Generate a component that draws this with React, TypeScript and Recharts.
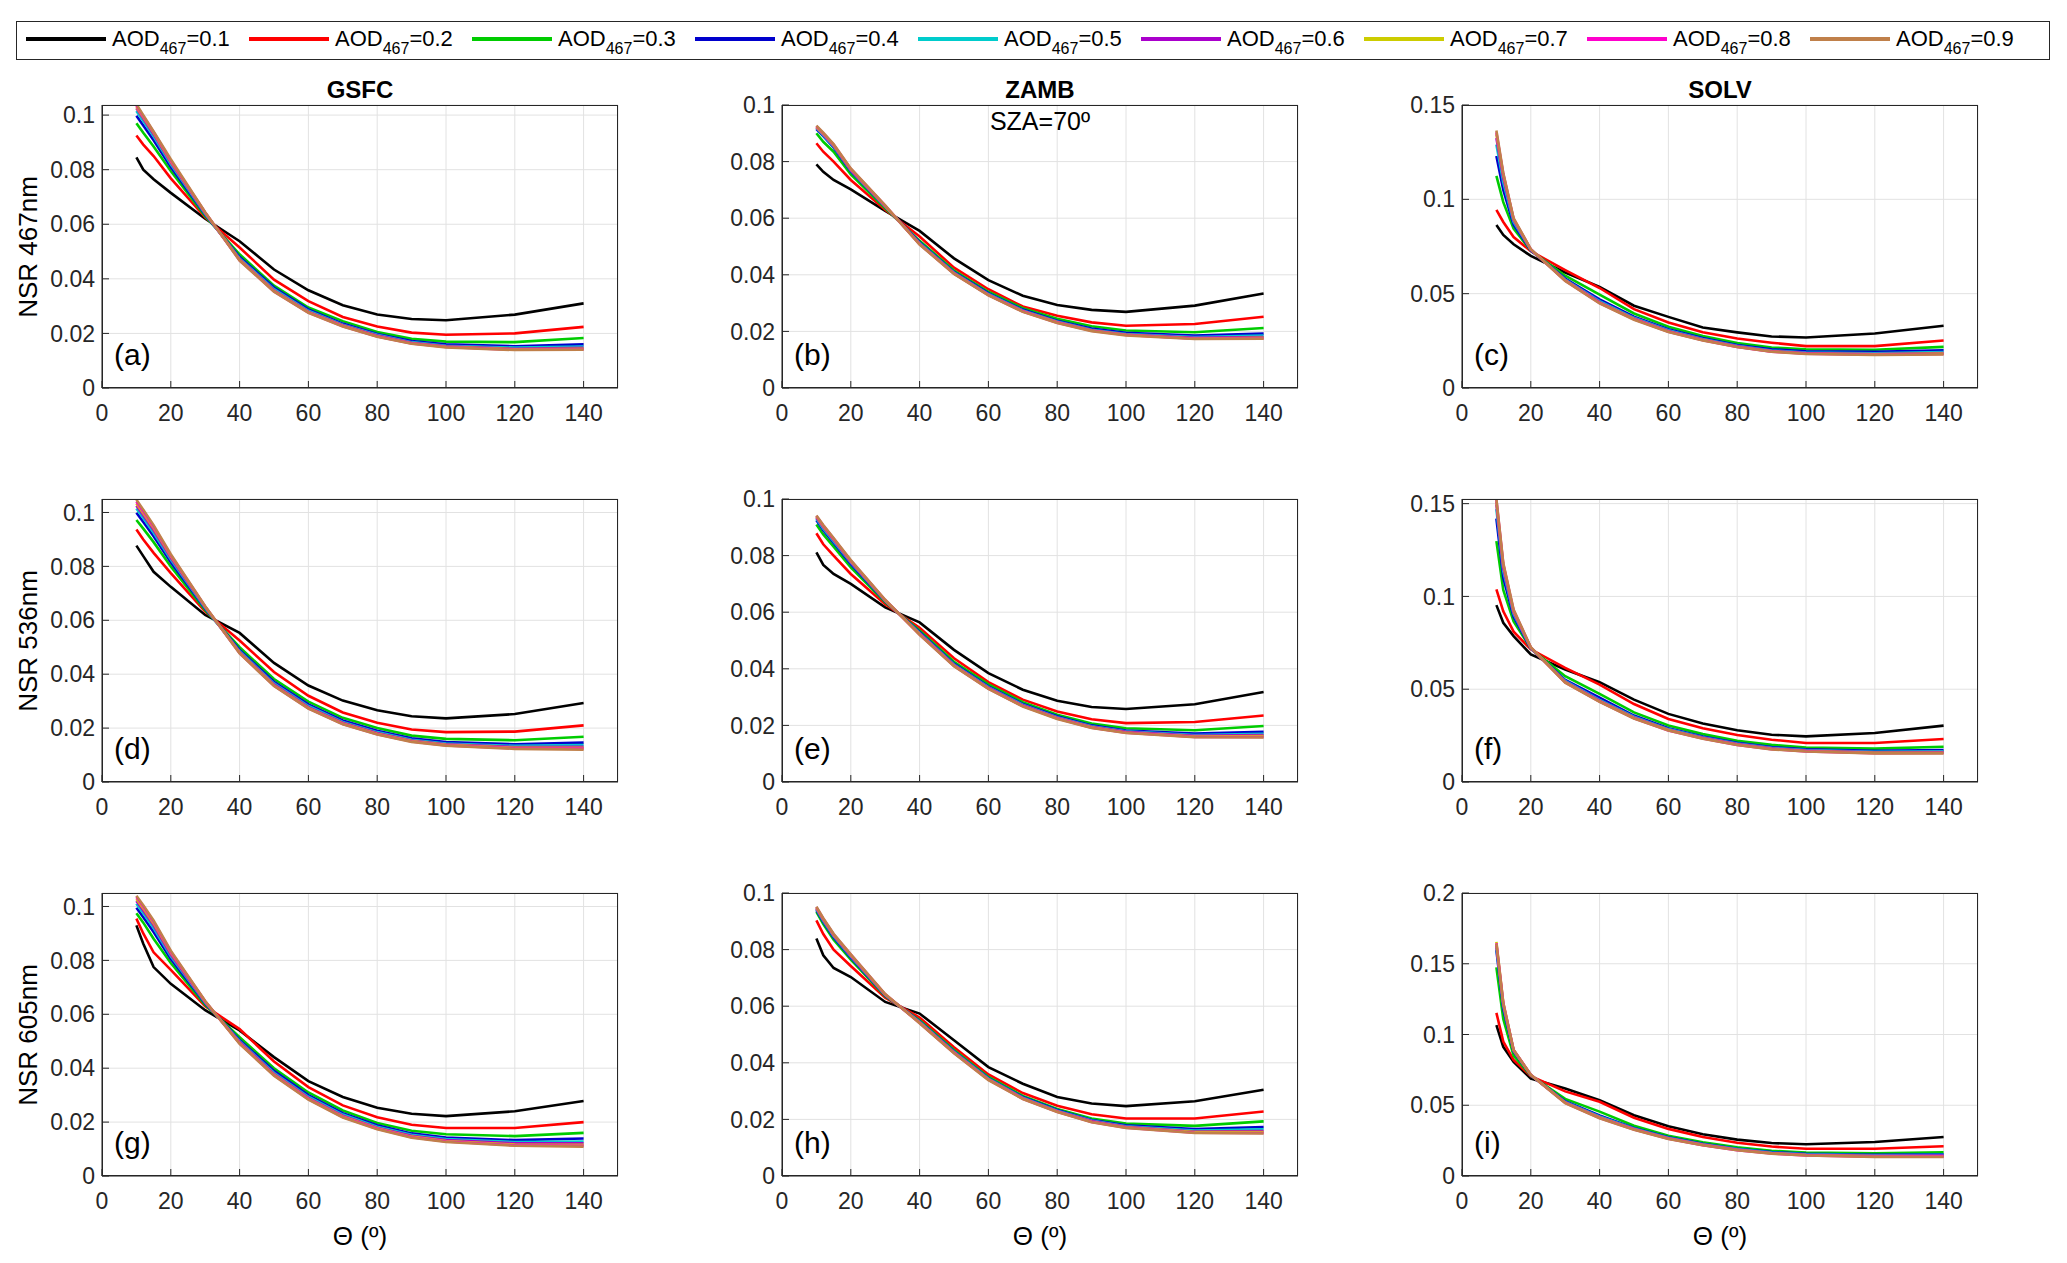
import React from "react";
import { LineChart, Line, XAxis, YAxis, CartesianGrid } from "recharts";

// scattering angle (deg) sampled by every curve
const theta = [10, 12, 15, 20, 30, 40, 50, 60, 70, 80, 90, 100, 120, 140];

const aodValues = ["0.1", "0.2", "0.3", "0.4", "0.5", "0.6", "0.7", "0.8", "0.9"];
const aodColors = [
  "#000000",
  "#ff0000",
  "#00cc00",
  "#0000cc",
  "#00cccc",
  "#aa00cc",
  "#cccc00",
  "#ff00cc",
  "#c0804a",
];

const sites = ["GSFC", "ZAMB", "SOLV"];
const bandLabels = ["NSR 467nm", "NSR 536nm", "NSR 605nm"];
const panelTags = ["(a)", "(b)", "(c)", "(d)", "(e)", "(f)", "(g)", "(h)", "(i)"];

const xTicks = [0, 20, 40, 60, 80, 100, 120, 140];
const yTicksSmall = [0, 0.02, 0.04, 0.06, 0.08, 0.1];
const yTicksMid = [0, 0.05, 0.1, 0.15];
const yTicksBig = [0, 0.05, 0.1, 0.15, 0.2];

// one row per AOD (0.1 ... 0.9), one value per theta
const gsfc467 = [
  [0.0845, 0.0800, 0.0765, 0.0715, 0.0620, 0.0538, 0.0434, 0.0358, 0.0303, 0.0269, 0.0253, 0.0248, 0.0269, 0.0310],
  [0.0925, 0.0892, 0.0850, 0.0768, 0.0625, 0.0515, 0.0397, 0.0318, 0.0260, 0.0225, 0.0203, 0.0195, 0.0200, 0.0224],
  [0.0970, 0.0935, 0.0885, 0.0795, 0.0630, 0.0490, 0.0375, 0.0295, 0.0245, 0.0205, 0.0180, 0.0170, 0.0168, 0.0183],
  [0.0998, 0.0962, 0.0908, 0.0810, 0.0635, 0.0480, 0.0368, 0.0288, 0.0236, 0.0198, 0.0172, 0.0160, 0.0153, 0.0160],
  [0.1015, 0.0978, 0.0922, 0.0820, 0.0638, 0.0475, 0.0362, 0.0283, 0.0232, 0.0195, 0.0168, 0.0155, 0.0148, 0.0152],
  [0.1025, 0.0987, 0.0930, 0.0826, 0.0640, 0.0472, 0.0358, 0.0280, 0.0230, 0.0192, 0.0166, 0.0153, 0.0144, 0.0147],
  [0.1030, 0.0992, 0.0935, 0.0830, 0.0642, 0.0470, 0.0356, 0.0278, 0.0228, 0.0190, 0.0164, 0.0151, 0.0142, 0.0144],
  [0.1035, 0.0996, 0.0938, 0.0833, 0.0643, 0.0468, 0.0354, 0.0276, 0.0226, 0.0189, 0.0163, 0.0150, 0.0140, 0.0141],
  [0.1040, 0.1000, 0.0940, 0.0838, 0.0644, 0.0467, 0.0353, 0.0275, 0.0225, 0.0188, 0.0162, 0.0149, 0.0139, 0.0140],
];

const zamb467 = [
  [0.0790, 0.0764, 0.0735, 0.0702, 0.0626, 0.0555, 0.0458, 0.0381, 0.0326, 0.0293, 0.0276, 0.0269, 0.0291, 0.0334],
  [0.0865, 0.0835, 0.0800, 0.0735, 0.0630, 0.0535, 0.0425, 0.0349, 0.0288, 0.0255, 0.0232, 0.0220, 0.0226, 0.0252],
  [0.0900, 0.0870, 0.0835, 0.0755, 0.0635, 0.0520, 0.0415, 0.0340, 0.0282, 0.0245, 0.0218, 0.0203, 0.0197, 0.0212],
  [0.0915, 0.0890, 0.0850, 0.0765, 0.0640, 0.0515, 0.0410, 0.0335, 0.0277, 0.0238, 0.0210, 0.0195, 0.0185, 0.0192],
  [0.0918, 0.0893, 0.0853, 0.0768, 0.0641, 0.0512, 0.0408, 0.0332, 0.0274, 0.0235, 0.0206, 0.0191, 0.0180, 0.0185],
  [0.0920, 0.0896, 0.0856, 0.0770, 0.0642, 0.0510, 0.0406, 0.0330, 0.0272, 0.0233, 0.0204, 0.0189, 0.0177, 0.0180],
  [0.0922, 0.0898, 0.0858, 0.0772, 0.0643, 0.0509, 0.0405, 0.0329, 0.0271, 0.0232, 0.0203, 0.0188, 0.0175, 0.0177],
  [0.0925, 0.0900, 0.0860, 0.0774, 0.0644, 0.0508, 0.0404, 0.0328, 0.0270, 0.0231, 0.0202, 0.0187, 0.0174, 0.0175],
  [0.0927, 0.0902, 0.0862, 0.0776, 0.0645, 0.0507, 0.0403, 0.0327, 0.0269, 0.0230, 0.0201, 0.0186, 0.0173, 0.0174],
];

const solv467 = [
  [0.0864, 0.0811, 0.0762, 0.0700, 0.0612, 0.0536, 0.0436, 0.0377, 0.0321, 0.0295, 0.0273, 0.0268, 0.0289, 0.0330],
  [0.0944, 0.0880, 0.0800, 0.0725, 0.0625, 0.0530, 0.0418, 0.0347, 0.0295, 0.0262, 0.0240, 0.0222, 0.0222, 0.0252],
  [0.1124, 0.0985, 0.0845, 0.0728, 0.0595, 0.0495, 0.0395, 0.0325, 0.0275, 0.0238, 0.0215, 0.0205, 0.0203, 0.0218],
  [0.1230, 0.1050, 0.0865, 0.0730, 0.0580, 0.0470, 0.0378, 0.0312, 0.0265, 0.0228, 0.0205, 0.0195, 0.0192, 0.0200],
  [0.1290, 0.1090, 0.0880, 0.0732, 0.0575, 0.0460, 0.0372, 0.0306, 0.0260, 0.0224, 0.0199, 0.0188, 0.0184, 0.0190],
  [0.1325, 0.1115, 0.0890, 0.0733, 0.0572, 0.0455, 0.0368, 0.0302, 0.0257, 0.0221, 0.0196, 0.0185, 0.0180, 0.0185],
  [0.1345, 0.1130, 0.0895, 0.0734, 0.0570, 0.0452, 0.0366, 0.0300, 0.0255, 0.0219, 0.0194, 0.0183, 0.0178, 0.0182],
  [0.1355, 0.1135, 0.0897, 0.0735, 0.0568, 0.0450, 0.0364, 0.0298, 0.0253, 0.0218, 0.0193, 0.0182, 0.0176, 0.0180],
  [0.1365, 0.1140, 0.0900, 0.0736, 0.0567, 0.0448, 0.0362, 0.0297, 0.0252, 0.0217, 0.0192, 0.0181, 0.0175, 0.0178],
];

const gsfc536 = [
  [0.0877, 0.0838, 0.0780, 0.0724, 0.0620, 0.0553, 0.0442, 0.0358, 0.0302, 0.0266, 0.0244, 0.0236, 0.0252, 0.0293],
  [0.0937, 0.0900, 0.0850, 0.0775, 0.0632, 0.0525, 0.0408, 0.0320, 0.0258, 0.0220, 0.0195, 0.0185, 0.0187, 0.0210],
  [0.0972, 0.0940, 0.0890, 0.0800, 0.0638, 0.0500, 0.0382, 0.0298, 0.0238, 0.0200, 0.0172, 0.0160, 0.0155, 0.0168],
  [0.0999, 0.0965, 0.0912, 0.0815, 0.0643, 0.0490, 0.0372, 0.0288, 0.0228, 0.0190, 0.0162, 0.0148, 0.0140, 0.0146],
  [0.1015, 0.0980, 0.0925, 0.0825, 0.0646, 0.0485, 0.0366, 0.0282, 0.0223, 0.0185, 0.0157, 0.0143, 0.0134, 0.0137],
  [0.1025, 0.0990, 0.0935, 0.0832, 0.0648, 0.0482, 0.0362, 0.0278, 0.0220, 0.0182, 0.0154, 0.0140, 0.0130, 0.0131],
  [0.1033, 0.0997, 0.0942, 0.0837, 0.0650, 0.0480, 0.0359, 0.0275, 0.0217, 0.0179, 0.0152, 0.0138, 0.0127, 0.0127],
  [0.1040, 0.1004, 0.0948, 0.0841, 0.0651, 0.0478, 0.0357, 0.0273, 0.0215, 0.0177, 0.0150, 0.0136, 0.0125, 0.0124],
  [0.1047, 0.1010, 0.0953, 0.0845, 0.0652, 0.0477, 0.0356, 0.0272, 0.0214, 0.0176, 0.0149, 0.0135, 0.0123, 0.0120],
];

const zamb536 = [
  [0.0811, 0.0767, 0.0735, 0.0700, 0.0617, 0.0564, 0.0467, 0.0385, 0.0326, 0.0287, 0.0265, 0.0258, 0.0275, 0.0318],
  [0.0879, 0.0840, 0.0800, 0.0735, 0.0628, 0.0545, 0.0437, 0.0353, 0.0291, 0.0249, 0.0222, 0.0208, 0.0212, 0.0235],
  [0.0910, 0.0875, 0.0832, 0.0758, 0.0635, 0.0535, 0.0425, 0.0345, 0.0282, 0.0238, 0.0207, 0.0190, 0.0183, 0.0198],
  [0.0925, 0.0890, 0.0845, 0.0770, 0.0638, 0.0530, 0.0418, 0.0338, 0.0276, 0.0232, 0.0200, 0.0182, 0.0171, 0.0177],
  [0.0930, 0.0895, 0.0850, 0.0775, 0.0640, 0.0527, 0.0415, 0.0335, 0.0273, 0.0229, 0.0197, 0.0179, 0.0166, 0.0170],
  [0.0935, 0.0900, 0.0855, 0.0778, 0.0641, 0.0525, 0.0413, 0.0333, 0.0271, 0.0227, 0.0195, 0.0177, 0.0163, 0.0166],
  [0.0938, 0.0903, 0.0858, 0.0780, 0.0642, 0.0523, 0.0411, 0.0331, 0.0269, 0.0225, 0.0193, 0.0175, 0.0161, 0.0162],
  [0.0940, 0.0906, 0.0860, 0.0782, 0.0643, 0.0521, 0.0410, 0.0330, 0.0268, 0.0224, 0.0192, 0.0174, 0.0159, 0.0159],
  [0.0942, 0.0908, 0.0862, 0.0784, 0.0644, 0.0520, 0.0409, 0.0329, 0.0267, 0.0223, 0.0191, 0.0173, 0.0158, 0.0157],
];

const solv536 = [
  [0.0953, 0.0858, 0.0786, 0.0687, 0.0606, 0.0538, 0.0444, 0.0367, 0.0315, 0.0279, 0.0255, 0.0246, 0.0264, 0.0304],
  [0.1038, 0.0920, 0.0810, 0.0715, 0.0615, 0.0525, 0.0420, 0.0340, 0.0290, 0.0253, 0.0228, 0.0210, 0.0210, 0.0232],
  [0.1298, 0.1035, 0.0865, 0.0720, 0.0570, 0.0475, 0.0375, 0.0305, 0.0258, 0.0222, 0.0200, 0.0185, 0.0180, 0.0190],
  [0.1420, 0.1100, 0.0890, 0.0720, 0.0550, 0.0455, 0.0358, 0.0290, 0.0245, 0.0211, 0.0188, 0.0176, 0.0168, 0.0172],
  [0.1470, 0.1135, 0.0905, 0.0722, 0.0545, 0.0442, 0.0352, 0.0285, 0.0241, 0.0207, 0.0184, 0.0172, 0.0163, 0.0166],
  [0.1495, 0.1155, 0.0915, 0.0723, 0.0541, 0.0438, 0.0348, 0.0282, 0.0238, 0.0204, 0.0181, 0.0169, 0.0160, 0.0162],
  [0.1510, 0.1170, 0.0920, 0.0724, 0.0538, 0.0435, 0.0345, 0.0280, 0.0236, 0.0202, 0.0179, 0.0167, 0.0157, 0.0158],
  [0.1520, 0.1175, 0.0925, 0.0725, 0.0536, 0.0433, 0.0343, 0.0278, 0.0234, 0.0200, 0.0177, 0.0165, 0.0155, 0.0156],
  [0.1525, 0.1180, 0.0930, 0.0726, 0.0535, 0.0432, 0.0342, 0.0277, 0.0233, 0.0199, 0.0176, 0.0164, 0.0154, 0.0154],
];

const gsfc605 = [
  [0.0930, 0.0862, 0.0775, 0.0713, 0.0615, 0.0540, 0.0441, 0.0352, 0.0293, 0.0253, 0.0231, 0.0222, 0.0240, 0.0278],
  [0.0955, 0.0900, 0.0830, 0.0765, 0.0630, 0.0545, 0.0425, 0.0330, 0.0262, 0.0218, 0.0190, 0.0178, 0.0178, 0.0200],
  [0.0975, 0.0940, 0.0880, 0.0790, 0.0635, 0.0515, 0.0400, 0.0310, 0.0243, 0.0197, 0.0168, 0.0155, 0.0148, 0.0160],
  [0.0995, 0.0960, 0.0905, 0.0805, 0.0640, 0.0505, 0.0390, 0.0300, 0.0233, 0.0188, 0.0158, 0.0143, 0.0133, 0.0139],
  [0.1010, 0.0975, 0.0920, 0.0815, 0.0643, 0.0500, 0.0383, 0.0294, 0.0228, 0.0183, 0.0153, 0.0137, 0.0126, 0.0128],
  [0.1020, 0.0985, 0.0930, 0.0822, 0.0645, 0.0497, 0.0379, 0.0290, 0.0224, 0.0179, 0.0149, 0.0133, 0.0121, 0.0121],
  [0.1028, 0.0993, 0.0937, 0.0828, 0.0647, 0.0494, 0.0376, 0.0287, 0.0221, 0.0177, 0.0146, 0.0130, 0.0117, 0.0116],
  [0.1035, 0.1000, 0.0943, 0.0832, 0.0648, 0.0492, 0.0374, 0.0285, 0.0219, 0.0175, 0.0144, 0.0128, 0.0114, 0.0112],
  [0.1040, 0.1005, 0.0948, 0.0836, 0.0649, 0.0490, 0.0372, 0.0283, 0.0217, 0.0173, 0.0142, 0.0126, 0.0112, 0.0109],
];

const zamb605 = [
  [0.0839, 0.0780, 0.0735, 0.0703, 0.0615, 0.0574, 0.0480, 0.0385, 0.0326, 0.0279, 0.0256, 0.0247, 0.0264, 0.0305],
  [0.0903, 0.0855, 0.0800, 0.0742, 0.0630, 0.0560, 0.0455, 0.0359, 0.0293, 0.0248, 0.0218, 0.0203, 0.0203, 0.0228],
  [0.0933, 0.0890, 0.0835, 0.0765, 0.0635, 0.0550, 0.0445, 0.0350, 0.0283, 0.0237, 0.0203, 0.0185, 0.0177, 0.0193],
  [0.0940, 0.0898, 0.0843, 0.0772, 0.0638, 0.0547, 0.0441, 0.0346, 0.0279, 0.0233, 0.0198, 0.0179, 0.0166, 0.0173],
  [0.0943, 0.0902, 0.0847, 0.0775, 0.0639, 0.0545, 0.0439, 0.0344, 0.0277, 0.0231, 0.0196, 0.0176, 0.0161, 0.0165],
  [0.0946, 0.0905, 0.0850, 0.0778, 0.0640, 0.0543, 0.0437, 0.0342, 0.0275, 0.0229, 0.0194, 0.0174, 0.0157, 0.0159],
  [0.0948, 0.0907, 0.0852, 0.0780, 0.0641, 0.0542, 0.0436, 0.0341, 0.0274, 0.0228, 0.0192, 0.0172, 0.0155, 0.0155],
  [0.0950, 0.0909, 0.0854, 0.0782, 0.0642, 0.0541, 0.0435, 0.0340, 0.0273, 0.0227, 0.0191, 0.0171, 0.0153, 0.0152],
  [0.0952, 0.0911, 0.0856, 0.0783, 0.0643, 0.0540, 0.0434, 0.0339, 0.0272, 0.0226, 0.0190, 0.0170, 0.0152, 0.0150],
];

const solv605 = [
  [0.1066, 0.0913, 0.0807, 0.0689, 0.0618, 0.0535, 0.0429, 0.0351, 0.0295, 0.0257, 0.0233, 0.0224, 0.0240, 0.0276],
  [0.1153, 0.0950, 0.0820, 0.0705, 0.0598, 0.0525, 0.0412, 0.0333, 0.0275, 0.0235, 0.0208, 0.0193, 0.0193, 0.0210],
  [0.1474, 0.1110, 0.0850, 0.0710, 0.0545, 0.0455, 0.0355, 0.0285, 0.0238, 0.0203, 0.0178, 0.0165, 0.0160, 0.0168],
  [0.1597, 0.1180, 0.0880, 0.0712, 0.0528, 0.0428, 0.0340, 0.0273, 0.0228, 0.0193, 0.0169, 0.0157, 0.0150, 0.0154],
  [0.1615, 0.1200, 0.0885, 0.0713, 0.0523, 0.0420, 0.0335, 0.0270, 0.0225, 0.0190, 0.0166, 0.0153, 0.0146, 0.0149],
  [0.1630, 0.1210, 0.0888, 0.0714, 0.0520, 0.0416, 0.0332, 0.0267, 0.0222, 0.0187, 0.0163, 0.0150, 0.0142, 0.0144],
  [0.1655, 0.1225, 0.0892, 0.0715, 0.0518, 0.0413, 0.0330, 0.0265, 0.0220, 0.0185, 0.0161, 0.0148, 0.0139, 0.0140],
  [0.1645, 0.1222, 0.0891, 0.0715, 0.0516, 0.0410, 0.0328, 0.0263, 0.0218, 0.0183, 0.0159, 0.0146, 0.0137, 0.0137],
  [0.1640, 0.1220, 0.0890, 0.0715, 0.0515, 0.0408, 0.0326, 0.0262, 0.0217, 0.0182, 0.0158, 0.0145, 0.0135, 0.0134],
];

// rows: 467, 536, 605 nm; columns: GSFC, ZAMB, SOLV
const panelSeries = [
  [gsfc467, zamb467, solv467],
  [gsfc536, zamb536, solv536],
  [gsfc605, zamb605, solv605],
];
const panelYMax = [
  [0.1037, 0.1, 0.15],
  [0.105, 0.1, 0.1525],
  [0.105, 0.1, 0.2],
];
const panelYTicks = [
  [yTicksSmall, yTicksSmall, yTicksMid],
  [yTicksSmall, yTicksSmall, yTicksMid],
  [yTicksSmall, yTicksSmall, yTicksBig],
];

const FONT = "'Liberation Sans', Arial, Helvetica, sans-serif";
const AXIS = "#262626";
const colLeft = [102, 782, 1462];
const rowTop = [105, 499, 893];
const PW = 516;
const PH = 283;
const YW = 80;
const XH = 44;
const PAD = 16;

const fmtY = (v: number) => (v === 0 ? "0" : String(+v.toFixed(3)));

function Panel({ row, col }: { row: number; col: number }) {
  const series = panelSeries[row][col];
  const yMax = panelYMax[row][col];
  const yTicks = panelYTicks[row][col];
  const data = theta.map((x, i) => {
    const point: Record<string, number> = { x };
    series.forEach((s, k) => {
      point["s" + k] = s[i];
    });
    return point;
  });

  return (
    <div
      style={{
        position: "absolute",
        left: colLeft[col] - YW,
        top: rowTop[row] - PAD,
      }}
    >
      <LineChart
        width={YW + PW + PAD}
        height={PAD + PH + XH}
        data={data}
        margin={{ top: PAD, right: PAD, bottom: 0, left: 0 }}
      >
        <CartesianGrid stroke="#e2e2e2" strokeWidth={1} />
        <XAxis
          dataKey="x"
          type="number"
          domain={[0, 150]}
          ticks={xTicks}
          interval={0}
          height={XH}
          stroke={AXIS}
          tickSize={-7}
          tickMargin={24}
          tick={{ fill: AXIS, fontSize: 23, fontFamily: FONT }}
        />
        <YAxis
          type="number"
          domain={[0, yMax]}
          ticks={yTicks}
          interval={0}
          allowDataOverflow
          width={YW}
          stroke={AXIS}
          tickSize={-7}
          tickMargin={14}
          tickFormatter={fmtY}
          tick={{ fill: AXIS, fontSize: 23, fontFamily: FONT }}
        />
        {series.map((_, k) => (
          <Line
            key={k}
            dataKey={"s" + k}
            type="linear"
            stroke={aodColors[k]}
            strokeWidth={2.6}
            dot={false}
            activeDot={false}
            isAnimationActive={false}
          />
        ))}
      </LineChart>
      {/* closed axes box, as in the original figure */}
      <div
        style={{
          position: "absolute",
          left: YW,
          top: PAD,
          width: PW,
          height: PH,
          boxSizing: "border-box",
          border: `1.2px solid ${AXIS}`,
          pointerEvents: "none",
        }}
      />
      <div
        style={{
          position: "absolute",
          left: YW + 12,
          top: PAD + PH - 48,
          fontSize: 30,
          lineHeight: 1,
          fontFamily: FONT,
          color: "#000",
        }}
      >
        {panelTags[row * 3 + col]}
      </div>
    </div>
  );
}

function Legend() {
  return (
    <div
      style={{
        position: "absolute",
        left: 16,
        top: 21,
        width: 2034,
        height: 39,
        boxSizing: "border-box",
        border: `1.5px solid ${AXIS}`,
        background: "#fff",
        fontFamily: FONT,
      }}
    >
      {aodValues.map((v, i) => (
        <div
          key={v}
          style={{
            position: "absolute",
            left: 9 + i * 223,
            top: 0,
            height: 33,
            display: "flex",
            alignItems: "center",
            whiteSpace: "nowrap",
          }}
        >
          <span
            style={{
              display: "inline-block",
              width: 80,
              height: 4,
              background: aodColors[i],
              marginRight: 6,
            }}
          />
          <span style={{ fontSize: 22, color: "#000", lineHeight: 1 }}>
            AOD
            <span
              style={{
                display: "inline-block",
                fontSize: 16,
                transform: "translateY(8px)",
              }}
            >
              467
            </span>
            ={v}
          </span>
        </div>
      ))}
    </div>
  );
}

export default function App() {
  const centered: React.CSSProperties = {
    position: "absolute",
    transform: "translate(-50%, -50%)",
    fontFamily: FONT,
    color: "#000",
    whiteSpace: "nowrap",
  };
  return (
    <div
      style={{
        position: "absolute",
        left: 0,
        top: 0,
        width: 2067,
        height: 1263,
        background: "#fff",
      }}
    >
      <Legend />
      {[0, 1, 2].map((row) =>
        [0, 1, 2].map((col) => <Panel key={`${row}-${col}`} row={row} col={col} />)
      )}
      {sites.map((s, col) => (
        <div
          key={s}
          style={{ ...centered, left: colLeft[col] + PW / 2, top: 90, fontSize: 24, fontWeight: "bold" }}
        >
          {s}
        </div>
      ))}
      <div style={{ ...centered, left: colLeft[1] + PW / 2, top: 121, fontSize: 25 }}>SZA=70º</div>
      {bandLabels.map((b, row) => (
        <div
          key={b}
          style={{
            ...centered,
            left: 28,
            top: rowTop[row] + PH / 2,
            fontSize: 26,
            transform: "translate(-50%, -50%) rotate(-90deg)",
          }}
        >
          {b}
        </div>
      ))}
      {colLeft.map((l) => (
        <div key={l} style={{ ...centered, left: l + PW / 2, top: 1236, fontSize: 26 }}>
          Θ (º)
        </div>
      ))}
    </div>
  );
}
